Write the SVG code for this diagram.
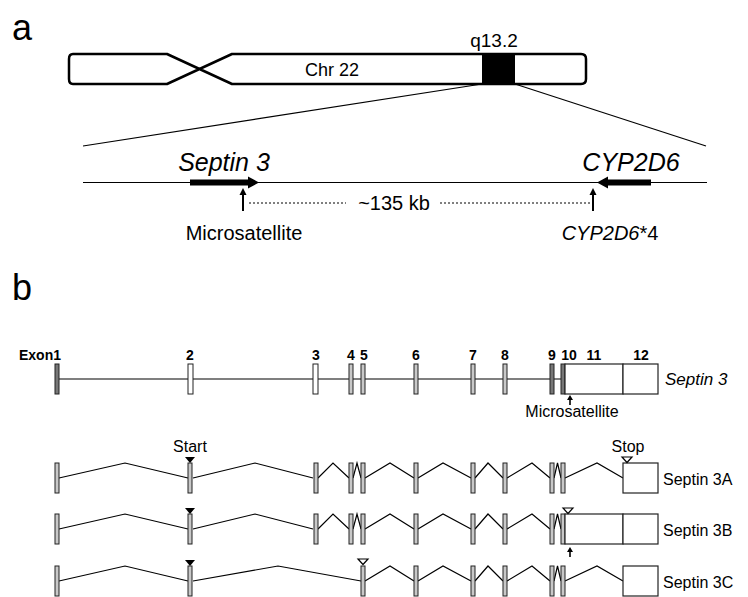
<svg xmlns="http://www.w3.org/2000/svg" width="748" height="597" viewBox="0 0 748 597">
<style>
text{font-family:"Liberation Sans",Arial,sans-serif;fill:#000}
.panel{font-size:36px}
.lbl{font-size:20px}
.it{font-style:italic}
.num{font-size:14px;font-weight:bold;text-anchor:middle}
.sm{font-size:16px}
.ln{stroke:#000;stroke-width:1.2;fill:none}
.ex{stroke:#222;stroke-width:1;fill:#c8c8c8}
.exw{stroke:#222;stroke-width:1;fill:#fff}
.exd{stroke:#222;stroke-width:1;fill:#777}
.box{stroke:#222;stroke-width:1.2;fill:#fff}
.dot{stroke:#000;stroke-width:1;stroke-dasharray:2 2;fill:none}
</style>
<defs>
<rect id="ex" class="ex" width="4" height="30"/>
</defs>

<!-- Panel a -->
<text class="panel" x="12" y="40">a</text>
<g id="chromosome">
<path d="M73,54 H167 L232,84 H581 Q586,84 586,79 V59 Q586,54 581,54 H232 L167,84 H73 Q69,84 69,79 V59 Q69,54 73,54 Z" fill="#fff" stroke="#000" stroke-width="2.5" stroke-linejoin="round"/>
<rect x="482" y="54" width="33" height="30" fill="#000"/>
<text x="332" y="76" font-size="18" text-anchor="middle">Chr 22</text>
<text x="494" y="47" font-size="19" text-anchor="middle">q13.2</text>
</g>
<g id="connectors-a">
<line class="ln" x1="482" y1="84" x2="83" y2="146"/>
<line class="ln" x1="515" y1="84" x2="706" y2="146"/>
<line class="ln" x1="83" y1="182.5" x2="707" y2="182.5"/>
<line class="dot" x1="249" y1="203" x2="346" y2="203"/>
<line class="dot" x1="440" y1="203" x2="590" y2="203"/>
<line x1="243" y1="211" x2="243" y2="194" stroke="#000" stroke-width="2"/>
<path d="M239.5,195 L243,188 L246.5,195 Z"/>
<line x1="593" y1="211" x2="593" y2="194" stroke="#000" stroke-width="2"/>
<path d="M589.5,195 L593,188 L596.5,195 Z"/>
</g>
<g id="septin3-gene">
<path d="M190,179.5 H248 V176.5 L259,182.5 L248,188.5 V185.5 H190 Z"/>
<text class="it" x="224" y="171" font-size="25" text-anchor="middle">Septin 3</text>
</g>
<g id="cyp2d6-gene">
<path d="M651,179.5 H608 V176.5 L597,182.5 L608,188.5 V185.5 H651 Z"/>
<text class="it" x="631" y="171" font-size="25" text-anchor="middle">CYP2D6</text>
</g>
<text class="lbl" x="394" y="210" text-anchor="middle">~135 kb</text>
<text class="lbl" x="244" y="240" text-anchor="middle">Microsatellite</text>
<text class="lbl" x="610" y="240" text-anchor="middle"><tspan class="it">CYP2D6</tspan>*4</text>

<!-- Panel b -->
<text class="panel" x="12" y="300">b</text>

<g id="gene-structure">
<line class="ln" x1="57" y1="379" x2="561" y2="379"/>
<rect class="exd" x="55" y="364" width="4" height="30"/>
<rect class="exw" x="188" y="364" width="5" height="30"/>
<rect class="exw" x="313" y="364" width="5" height="30"/>
<use href="#ex" x="349" y="364"/>
<use href="#ex" x="361" y="364"/>
<use href="#ex" x="414" y="364"/>
<use href="#ex" x="471" y="364"/>
<use href="#ex" x="503" y="364"/>
<rect class="exd" x="550" y="364" width="4" height="30"/>
<rect class="exd" x="561" y="364" width="4" height="30" fill="#999"/>
<rect class="box" x="565" y="364" width="58" height="30"/>
<rect class="box" x="623" y="364" width="35" height="30"/>
<text x="61" y="360" font-size="14" font-weight="bold" text-anchor="end">Exon1</text>
<text class="num" x="190" y="360">2</text>
<text class="num" x="316" y="360">3</text>
<text class="num" x="351" y="360">4</text>
<text class="num" x="364" y="360">5</text>
<text class="num" x="416" y="360">6</text>
<text class="num" x="473" y="360">7</text>
<text class="num" x="505" y="360">8</text>
<text class="num" x="552" y="360">9</text>
<text class="num" x="569" y="360">10</text>
<text class="num" x="594" y="360">11</text>
<text class="num" x="641" y="360">12</text>
<text class="it" x="665" y="385" font-size="17">Septin 3</text>
<line x1="570" y1="405" x2="570" y2="399" stroke="#000" stroke-width="1.6"/>
<path d="M567,400 L570,395 L573,400 Z"/>
<text class="sm" x="572" y="417" text-anchor="middle">Microsatellite</text>
</g>

<g id="connectors-b">
<polyline class="ln" points="59,478 125,463 188,478"/>
<polyline class="ln" points="193,478 255,463 313,478"/>
<polyline class="ln" points="318,478 333,463 349,478"/>
<polyline class="ln" points="353,478 357,463 361,478"/>
<polyline class="ln" points="365,478 390,463 414,478"/>
<polyline class="ln" points="418,478 443,463 471,478"/>
<polyline class="ln" points="475,478 488,463 503,478"/>
<polyline class="ln" points="507,478 532,463 550,478"/>
<polyline class="ln" points="554,478 557.5,463 561,478"/>
<polyline class="ln" points="565,478 597,463 623,478"/>

<polyline class="ln" points="59,529 125,514 188,529"/>
<polyline class="ln" points="193,529 255,514 313,529"/>
<polyline class="ln" points="318,529 333,514 349,529"/>
<polyline class="ln" points="353,529 357,514 361,529"/>
<polyline class="ln" points="365,529 390,514 414,529"/>
<polyline class="ln" points="418,529 443,514 471,529"/>
<polyline class="ln" points="475,529 488,514 503,529"/>
<polyline class="ln" points="507,529 532,514 550,529"/>
<polyline class="ln" points="554,529 557.5,514 561,529"/>

<polyline class="ln" points="59,581 125,566 188,581"/>
<polyline class="ln" points="193,581 278,566 361,581"/>
<polyline class="ln" points="365,581 390,566 414,581"/>
<polyline class="ln" points="418,581 443,566 471,581"/>
<polyline class="ln" points="475,581 488,566 503,581"/>
<polyline class="ln" points="507,581 532,566 550,581"/>
<polyline class="ln" points="554,581 557.5,566 561,581"/>
<polyline class="ln" points="565,581 597,566 623,581"/>
</g>

<g id="septin3A">
<use href="#ex" x="55" y="463"/>
<use href="#ex" x="188" y="463"/>
<use href="#ex" x="314" y="463"/>
<use href="#ex" x="349" y="463"/>
<use href="#ex" x="361" y="463"/>
<use href="#ex" x="414" y="463"/>
<use href="#ex" x="471" y="463"/>
<use href="#ex" x="503" y="463"/>
<use href="#ex" x="550" y="463"/>
<use href="#ex" x="561" y="463"/>
<rect class="box" x="623" y="463" width="35" height="30"/>
<path d="M185,457 H195 L190,463 Z"/>
<path d="M622,457 H632 L627,462.5 Z" fill="#fff" stroke="#000" stroke-width="1.2"/>
<text class="sm" x="190" y="452" text-anchor="middle">Start</text>
<text class="sm" x="628" y="452" text-anchor="middle">Stop</text>
<text class="sm" x="663" y="485">Septin 3A</text>
</g>

<g id="septin3B">
<use href="#ex" x="55" y="514"/>
<use href="#ex" x="188" y="514"/>
<use href="#ex" x="314" y="514"/>
<use href="#ex" x="349" y="514"/>
<use href="#ex" x="361" y="514"/>
<use href="#ex" x="414" y="514"/>
<use href="#ex" x="471" y="514"/>
<use href="#ex" x="503" y="514"/>
<use href="#ex" x="550" y="514"/>
<use href="#ex" x="561" y="514"/>
<rect class="box" x="565" y="514" width="58" height="30"/>
<rect class="box" x="623" y="514" width="35" height="30"/>
<path d="M185,508 H195 L190,514 Z"/>
<path d="M563,508 H573 L568,513.5 Z" fill="#fff" stroke="#000" stroke-width="1.2"/>
<line x1="570" y1="557" x2="570" y2="551" stroke="#000" stroke-width="1.6"/>
<path d="M567,552 L570,547 L573,552 Z"/>
<text class="sm" x="663" y="536">Septin 3B</text>
</g>

<g id="septin3C">
<use href="#ex" x="55" y="566"/>
<use href="#ex" x="188" y="566"/>
<use href="#ex" x="361" y="566"/>
<use href="#ex" x="414" y="566"/>
<use href="#ex" x="471" y="566"/>
<use href="#ex" x="503" y="566"/>
<use href="#ex" x="550" y="566"/>
<use href="#ex" x="561" y="566"/>
<rect class="box" x="623" y="566" width="35" height="30"/>
<path d="M185,560 H195 L190,566 Z"/>
<path d="M358,559 H368 L363,564.5 Z" fill="#fff" stroke="#000" stroke-width="1.2"/>
<text class="sm" x="663" y="588">Septin 3C</text>
</g>
</svg>
